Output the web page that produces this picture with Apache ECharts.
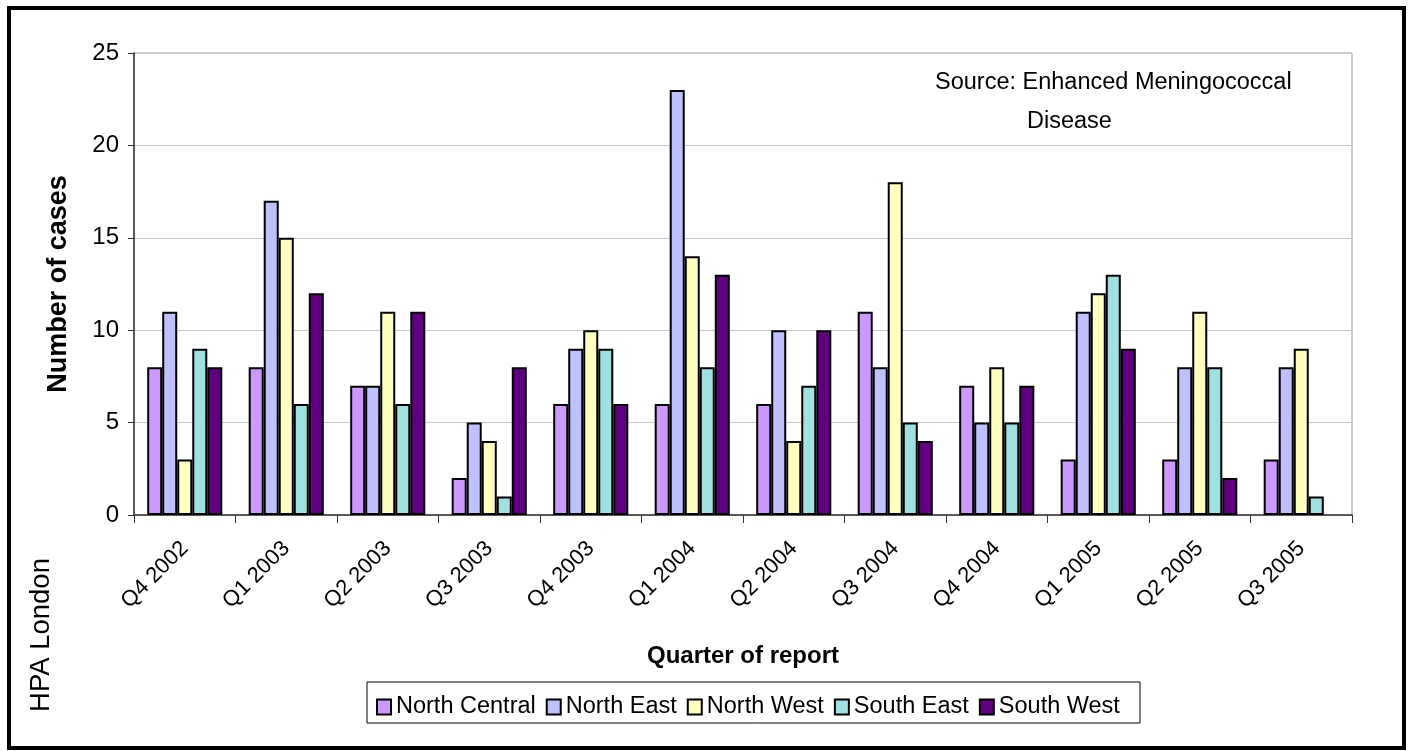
<!DOCTYPE html>
<html><head><meta charset="utf-8">
<script src="https://cdn.jsdelivr.net/npm/echarts@6/dist/echarts.min.js"></script>
<style>html,body{margin:0;padding:0;background:#fff}#c{width:1411px;height:751px}</style>
</head><body><div id="c"></div>
<script>
const categories = ['Q4 2002','Q1 2003','Q2 2003','Q3 2003','Q4 2003','Q1 2004','Q2 2004','Q3 2004','Q4 2004','Q1 2005','Q2 2005','Q3 2005'];
const northCentral = [8, 8, 7, 2, 6, 6, 6, 11, 7, 3, 3, 3];
const northEast    = [11, 17, 7, 5, 9, 23, 10, 8, 5, 11, 8, 8];
const northWest    = [3, 15, 11, 4, 10, 14, 4, 18, 8, 12, 11, 9];
const southEast    = [9, 6, 6, 1, 9, 8, 7, 5, 5, 13, 8, 1];
const southWest    = [8, 12, 11, 8, 6, 13, 10, 4, 7, 9, 2, null];
const seriesNames = ['North Central','North East','North West','South East','South West'];
const colors = ['#CC99FF','#C0C0FF','#FFFFC0','#A0E0E0','#600080'];
const yTicks = [0,5,10,15,20,25];

const FONT = 'Liberation Sans, Arial, sans-serif';
const dataSets = [northCentral, northEast, northWest, southEast, southWest];
const chart = echarts.init(document.getElementById('c'));
chart.setOption({
  animation: false,
  textStyle: {fontFamily: FONT},
  grid: {left: 134, right: 59, top: 53, bottom: 236, show: true, borderColor: '#999', borderWidth: 1},
  legend: {
    data: seriesNames, left: 371, top: 690, itemWidth: 14, itemHeight: 15, itemGap: 10,
    textStyle: {fontSize: 23.5, color: '#000', fontFamily: FONT, padding: [0,0,0,0]},
    icon: 'rect'
  },
  graphic: [
    {type:'rect', shape:{x:9,y:8,width:1395,height:740}, style:{fill:null, stroke:'#000', lineWidth:4}, silent:true},
    {type:'rect', shape:{x:367,y:682,width:773,height:41}, style:{fill:null, stroke:'#000', lineWidth:1}, silent:true},
    {type:'text', x: 935, y: 83, style:{text:'Source: Enhanced Meningococcal', font:'23.5px '+FONT, fill:'#000', verticalAlign:'middle'}},
    {type:'text', x: 1027, y: 122, style:{text:'Disease', font:'23.5px '+FONT, fill:'#000', verticalAlign:'middle'}},
    {type:'text', x: 41, y: 635, rotation: Math.PI/2, style:{text:'HPA London', font:'27.5px '+FONT, fill:'#000', align:'center', verticalAlign:'middle'}}
  ],
  xAxis: {
    type: 'category', data: categories,
    name: 'Quarter of report', nameLocation: 'middle', nameGap: 129,
    nameTextStyle: {fontSize: 24, fontWeight: 'bold', color: '#000'},
    axisLine: {lineStyle: {color: '#333', width: 1.5}},
    axisTick: {show: true, alignWithLabel: false, length: 8, lineStyle: {color: '#333'}},
    axisLabel: {rotate: 45, fontSize: 22, color: '#000', margin: 30, interval: 0}
  },
  yAxis: {
    type: 'value', min: 0, max: 25, interval: 5,
    name: 'Number of cases', nameLocation: 'middle', nameGap: 62,
    nameTextStyle: {fontSize: 27, fontWeight: 'bold', color: '#000'},
    axisLine: {show: true, lineStyle: {color: '#333', width: 1.5}},
    axisTick: {show: true, length: 6, lineStyle: {color: '#333'}},
    axisLabel: {fontSize: 24, color: '#000', margin: 15, formatter: v => yTicks.includes(v) ? String(v) : ''},
    splitLine: {lineStyle: {color: '#c8c8c8'}}
  },
  series: seriesNames.map((n, i) => ({
    name: n, type: 'bar', data: dataSets[i],
    barGap: '0%', barCategoryGap: '26%',
    itemStyle: {color: colors[i], borderColor: '#000', borderWidth: 2}
  }))
});
</script></body></html>
